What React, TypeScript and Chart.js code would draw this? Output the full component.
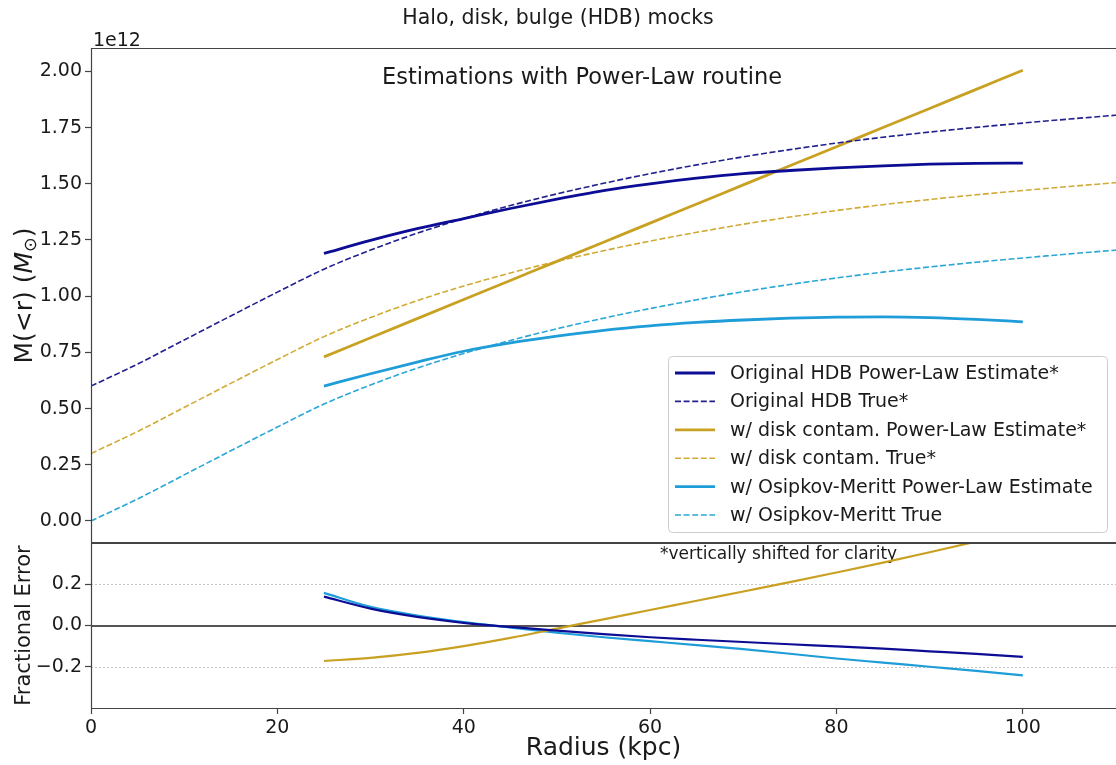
import React, { useEffect, useRef } from "react";
import { Chart, registerables } from "chart.js";

Chart.register(...registerables);

const FONT = "'DejaVu Sans', sans-serif";

// Radius samples (kpc)
const radiusTrue = [0, 5, 10, 15, 20, 25, 30, 35, 40, 45, 50, 55, 60, 65, 70, 75, 80, 85, 90, 95, 100, 105, 110];
const radiusEst = [25, 30, 35, 40, 45, 50, 55, 60, 65, 70, 75, 80, 85, 90, 95, 100];

// Enclosed mass, units of 1e12 Msun (vertically shifted curves as in the figure)
const hdbTrue = [0.600, 0.698, 0.805, 0.912, 1.018, 1.120, 1.205, 1.280, 1.345, 1.403, 1.455, 1.502, 1.545, 1.584, 1.620, 1.652, 1.681, 1.707, 1.730, 1.751, 1.770, 1.788, 1.805];
const diskTrue = [0.300, 0.398, 0.505, 0.612, 0.718, 0.820, 0.905, 0.980, 1.045, 1.103, 1.155, 1.202, 1.245, 1.284, 1.320, 1.352, 1.381, 1.407, 1.430, 1.451, 1.470, 1.488, 1.505];
const omTrue = [0.000, 0.098, 0.205, 0.312, 0.418, 0.520, 0.605, 0.680, 0.745, 0.803, 0.855, 0.902, 0.945, 0.984, 1.020, 1.052, 1.081, 1.107, 1.130, 1.151, 1.170, 1.188, 1.205];

const hdbEst = [1.190, 1.248, 1.300, 1.345, 1.390, 1.432, 1.470, 1.500, 1.525, 1.545, 1.559, 1.571, 1.580, 1.587, 1.591, 1.592];
const diskEst = [0.730, 0.815, 0.900, 0.985, 1.070, 1.155, 1.240, 1.325, 1.410, 1.495, 1.580, 1.665, 1.750, 1.835, 1.920, 2.005];
const omEst = [0.600, 0.655, 0.707, 0.755, 0.792, 0.822, 0.848, 0.868, 0.883, 0.894, 0.902, 0.907, 0.908, 0.905, 0.897, 0.886];

// Fractional errors
const hdbErr = [0.140, 0.082, 0.042, 0.013, -0.007, -0.025, -0.042, -0.057, -0.069, -0.080, -0.091, -0.101, -0.112, -0.125, -0.138, -0.152];
const diskErr = [-0.172, -0.157, -0.133, -0.100, -0.060, -0.015, 0.030, 0.075, 0.120, 0.165, 0.210, 0.257, 0.305, 0.355, 0.407, 0.462];
const omErr = [0.158, 0.090, 0.048, 0.016, -0.010, -0.035, -0.057, -0.076, -0.095, -0.115, -0.137, -0.160, -0.180, -0.200, -0.220, -0.242];

// Tick values
const massTicks = [0, 0.25, 0.5, 0.75, 1.0, 1.25, 1.5, 1.75, 2.0];
const errTicks = [-0.2, 0, 0.2];
const radiusTicks = [0, 20, 40, 60, 80, 100];

const C_NAVY = "#0c0c94";
const C_NAVY_D = "#20208e";
const C_GOLD = "#c9a122";
const C_GOLD_D = "#d1aa35";
const C_CYAN = "#1e9dd8";
const C_CYAN_D = "#2aa7d5";
const FRAME = "#444444";
const TEXT = "#1a1a1a";

const pts = (xs: number[], ys: number[]) => xs.map((x, i) => ({ x, y: ys[i] }));

function frame(chart: any, top: boolean) {
  const { ctx, chartArea: a } = chart;
  ctx.save();
  ctx.strokeStyle = FRAME;
  ctx.lineWidth = 1.2;
  ctx.beginPath();
  ctx.moveTo(a.left + 0.5, a.bottom);
  ctx.lineTo(a.left + 0.5, a.top);
  ctx.moveTo(a.left, a.top + 0.5);
  ctx.lineTo(a.right, a.top + 0.5);
  if (top) {
    ctx.moveTo(a.left, a.bottom - 0.5);
    ctx.lineTo(a.right, a.bottom - 0.5);
  } else {
    ctx.moveTo(a.left, a.bottom + 0.5);
    ctx.lineTo(a.right, a.bottom + 0.5);
  }
  ctx.stroke();
  ctx.restore();
}

const topPlugin = {
  id: "topDecor",
  afterDraw(chart: any) {
    const ctx = chart.ctx;
    frame(chart, true);
    ctx.save();
    ctx.fillStyle = TEXT;
    ctx.font = `20.5px ${FONT}`;
    ctx.textAlign = "center";
    ctx.textBaseline = "alphabetic";
    ctx.fillText("Halo, disk, bulge (HDB) mocks", 558, 24);
    ctx.font = `19px ${FONT}`;
    ctx.textAlign = "left";
    ctx.fillText("1e12", 93, 46);
    ctx.font = `22.5px ${FONT}`;
    ctx.textAlign = "center";
    ctx.fillText("Estimations with Power-Law routine", 582, 83.5);
    ctx.translate(31.5, 295.5);
    ctx.rotate(-Math.PI / 2);
    const parts = [
      { t: "M(<r) (", f: `25px ${FONT}`, dy: 0 },
      { t: "M", f: `italic 25px ${FONT}`, dy: 0 },
      { t: "\u2299", f: `17.5px ${FONT}`, dy: 4 },
      { t: ")", f: `25px ${FONT}`, dy: 0 },
    ];
    let total = 0;
    parts.forEach((p) => {
      ctx.font = p.f;
      total += ctx.measureText(p.t).width;
    });
    let x = -total / 2;
    ctx.textAlign = "left";
    parts.forEach((p) => {
      ctx.font = p.f;
      ctx.fillText(p.t, x, p.dy);
      x += ctx.measureText(p.t).width;
    });
    ctx.restore();

    ctx.save();
    ctx.beginPath();
    if (ctx.roundRect) ctx.roundRect(668.5, 356.5, 439, 176, 4);
    else ctx.rect(668.5, 356.5, 439, 176);
    ctx.fillStyle = "rgba(255,255,255,0.85)";
    ctx.fill();
    ctx.strokeStyle = "#cccccc";
    ctx.lineWidth = 1;
    ctx.stroke();
    chart.data.datasets.forEach((ds: any, i: number) => {
      const y = 373 + i * 28.4;
      ctx.beginPath();
      ctx.setLineDash(ds.borderDash || []);
      ctx.strokeStyle = ds.borderColor;
      ctx.lineWidth = ds.borderWidth;
      ctx.moveTo(675, y);
      ctx.lineTo(715, y);
      ctx.stroke();
      ctx.setLineDash([]);
      ctx.fillStyle = TEXT;
      ctx.font = `19px ${FONT}`;
      ctx.textAlign = "left";
      ctx.textBaseline = "middle";
      ctx.fillText(ds.label, 730, y + 1);
    });
    ctx.restore();
  },
};

const bottomPlugin = {
  id: "bottomDecor",
  beforeDatasetsDraw(chart: any) {
    const { ctx, chartArea: a, scales } = chart;
    const ys = scales.y;
    ctx.save();
    ctx.strokeStyle = "#c4c4c4";
    ctx.lineWidth = 1;
    ctx.setLineDash([2, 2]);
    [-0.2, 0.2].forEach((v) => {
      const py = Math.round(ys.getPixelForValue(v)) + 0.5;
      ctx.beginPath();
      ctx.moveTo(a.left, py);
      ctx.lineTo(a.right, py);
      ctx.stroke();
    });
    ctx.setLineDash([]);
    ctx.strokeStyle = "#555555";
    ctx.lineWidth = 2;
    const p0 = Math.round(ys.getPixelForValue(0));
    ctx.beginPath();
    ctx.moveTo(a.left, p0);
    ctx.lineTo(a.right, p0);
    ctx.stroke();
    ctx.fillStyle = TEXT;
    ctx.font = `17px ${FONT}`;
    ctx.textAlign = "left";
    ctx.textBaseline = "alphabetic";
    ctx.fillText("*vertically shifted for clarity", 660, a.top + 16);
    ctx.restore();
  },
  afterDraw(chart: any) {
    const { ctx, chartArea: a } = chart;
    frame(chart, false);
    ctx.save();
    ctx.fillStyle = TEXT;
    ctx.font = `25px ${FONT}`;
    ctx.textAlign = "center";
    ctx.textBaseline = "alphabetic";
    ctx.fillText("Radius (kpc)", (a.left + a.right) / 2, a.bottom + 47);
    ctx.translate(29.5, (a.top + a.bottom) / 2);
    ctx.rotate(-Math.PI / 2);
    ctx.font = `21px ${FONT}`;
    ctx.fillText("Fractional Error", 0, 0);
    ctx.restore();
  },
};

const fitY = (s: any) => {
  s.width = 91;
  s.paddingTop = 0;
  s.paddingBottom = 0;
};

export default function App() {
  const topRef = useRef<HTMLCanvasElement | null>(null);
  const botRef = useRef<HTMLCanvasElement | null>(null);

  useEffect(() => {
    const line = (label: string, xs: number[], ys: number[], color: string, dashed: boolean, width: number) => ({
      label,
      data: pts(xs, ys),
      borderColor: color,
      backgroundColor: color,
      borderWidth: width,
      borderDash: dashed ? [6, 2.6] : [],
      pointRadius: 0,
      fill: false,
      cubicInterpolationMode: "monotone" as const,
    });

    const tickFont = { family: FONT, size: 19 };

    const top = new Chart(topRef.current as HTMLCanvasElement, {
      type: "line",
      data: {
        datasets: [
          line("Original HDB Power-Law Estimate*", radiusEst, hdbEst, C_NAVY, false, 2.8),
          line("Original HDB True*", radiusTrue, hdbTrue, C_NAVY_D, true, 1.6),
          line("w/ disk contam. Power-Law Estimate*", radiusEst, diskEst, C_GOLD, false, 2.8),
          line("w/ disk contam. True*", radiusTrue, diskTrue, C_GOLD_D, true, 1.6),
          line("w/ Osipkov-Meritt Power-Law Estimate", radiusEst, omEst, C_CYAN, false, 2.8),
          line("w/ Osipkov-Meritt True", radiusTrue, omTrue, C_CYAN_D, true, 1.6),
        ],
      },
      options: {
        responsive: false,
        animation: false,
        layout: { padding: { top: 48, left: 0, right: 0, bottom: 1 } },
        plugins: { legend: { display: false }, tooltip: { enabled: false }, title: { display: false } },
        scales: {
          x: { type: "linear", min: 0, max: 110, display: false },
          y: {
            type: "linear",
            min: -0.098,
            max: 2.104,
            afterFit: fitY,
            afterBuildTicks: (s: any) => {
              s.ticks = massTicks.map((v) => ({ value: v }));
            },
            ticks: {
              font: tickFont,
              color: TEXT,
              padding: 3,
              callback: (v: any) => Number(v).toFixed(2),
            },
            grid: { drawOnChartArea: false, drawTicks: true, tickLength: 6, tickColor: FRAME, tickWidth: 1.2 },
            border: { display: false },
          },
        },
      } as any,
      plugins: [topPlugin],
    });

    const bot = new Chart(botRef.current as HTMLCanvasElement, {
      type: "line",
      data: {
        datasets: [
          line("Original HDB", radiusEst, hdbErr, C_NAVY, false, 2.2),
          line("w/ disk contam.", radiusEst, diskErr, C_GOLD, false, 2.2),
          line("w/ Osipkov-Meritt", radiusEst, omErr, C_CYAN, false, 2.2),
        ],
      },
      options: {
        responsive: false,
        animation: false,
        layout: { padding: { top: 8, left: 0, right: 0, bottom: 0 } },
        plugins: { legend: { display: false }, tooltip: { enabled: false }, title: { display: false } },
        scales: {
          x: {
            type: "linear",
            min: 0,
            max: 110,
            afterFit: (s: any) => {
              s.height = 57;
              s.paddingLeft = 0;
              s.paddingRight = 0;
            },
            afterBuildTicks: (s: any) => {
              s.ticks = radiusTicks.map((v) => ({ value: v }));
            },
            ticks: { font: tickFont, color: TEXT, padding: 3, maxRotation: 0, callback: (v: any) => String(v) },
            grid: { drawOnChartArea: false, drawTicks: true, tickLength: 6, tickColor: FRAME, tickWidth: 1.2 },
            border: { display: false },
          },
          y: {
            type: "linear",
            min: -0.4,
            max: 0.4,
            afterFit: fitY,
            afterBuildTicks: (s: any) => {
              s.ticks = errTicks.map((v) => ({ value: v }));
            },
            ticks: {
              font: tickFont,
              color: TEXT,
              padding: 3,
              callback: (v: any) => {
                const n = Number(v);
                if (Math.abs(n) < 1e-9) return "0.0";
                return n < 0 ? "\u2212" + Math.abs(n).toFixed(1) : n.toFixed(1);
              },
            },
            grid: { drawOnChartArea: false, drawTicks: true, tickLength: 6, tickColor: FRAME, tickWidth: 1.2 },
            border: { display: false },
          },
        },
      } as any,
      plugins: [bottomPlugin],
    });

    return () => {
      top.destroy();
      bot.destroy();
    };
  }, []);

  return (
    <div
      style={{
        position: "fixed",
        left: 0,
        top: 0,
        width: 1116,
        height: 765,
        overflow: "hidden",
        background: "#ffffff",
      }}
    >
      <canvas
        ref={botRef}
        width={1116}
        height={230}
        style={{ position: "absolute", left: 0, top: 535, width: 1116, height: 230 }}
      />
      <canvas
        ref={topRef}
        width={1116}
        height={544}
        style={{ position: "absolute", left: 0, top: 0, width: 1116, height: 544 }}
      />
    </div>
  );
}
